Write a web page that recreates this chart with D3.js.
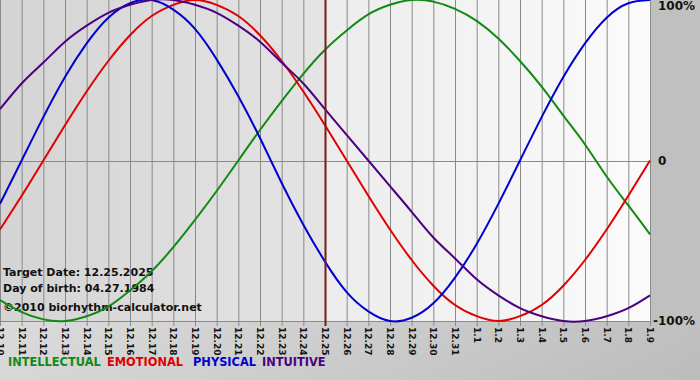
<!DOCTYPE html>
<html><head><meta charset="utf-8">
<script src="https://cdn.jsdelivr.net/npm/d3@7"></script>
<style>html,body{margin:0;padding:0;background:#fff;}svg{display:block;}</style>
</head><body>
<svg id="c" width="700" height="380"></svg>
<script>
const dates = ["12.10","12.11","12.12","12.13","12.14","12.15","12.16","12.17","12.18","12.19","12.20","12.21","12.22","12.23","12.24","12.25","12.26","12.27","12.28","12.29","12.30","12.31","1.1","1.2","1.3","1.4","1.5","1.6","1.7","1.8","1.9"];
const intellectual = [-0.87,-0.945,-0.99,-1.00,-0.97,-0.91,-0.81,-0.69,-0.54,-0.37,-0.19,0,0.19,0.37,0.54,0.69,0.81,0.91,0.97,1.00,0.99,0.945,0.87,0.76,0.62,0.46,0.28,0.10,-0.10,-0.28,-0.46];
const emotional = [-0.43,-0.22,0,0.22,0.43,0.62,0.78,0.90,0.97,1.00,0.97,0.90,0.78,0.62,0.43,0.22,0,-0.22,-0.43,-0.62,-0.78,-0.90,-0.97,-1.00,-0.97,-0.90,-0.78,-0.62,-0.43,-0.22,0];
const physical = [-0.27,0,0.27,0.52,0.73,0.89,0.98,1.00,0.94,0.82,0.63,0.40,0.14,-0.14,-0.40,-0.63,-0.82,-0.94,-1.00,-0.98,-0.89,-0.73,-0.52,-0.27,0,0.27,0.52,0.73,0.89,0.98,1.00];
const intuitive = [0.32,0.48,0.61,0.74,0.84,0.92,0.97,1.00,1.00,0.97,0.92,0.84,0.74,0.61,0.48,0.32,0.16,0,-0.16,-0.32,-0.48,-0.61,-0.74,-0.84,-0.92,-0.97,-1.00,-1.00,-0.97,-0.92,-0.84];
const targetDate = "12.25";
const yTicks = [{v:1,label:"100%"},{v:0,label:"0"},{v:-1,label:"-100%"}];
const seriesNames = ["INTELLECTUAL","EMOTIONAL","PHYSICAL","INTUITIVE"];
const seriesColors = ["#128a12","#e00000","#0000d0","#4b0082"];
const infoLines = ["Target Date: 12.25.2025","Day of birth: 04.27.1984"];
const credit = "\u00a92010 biorhythm-calculator.net";

(function(){
const svg = d3.select("#c");
const W = 700, H = 380;
const pL = 0, pR = 650, pT = 0, pB = 321;
const x = d3.scalePoint().domain(dates).range([pL, pR]);
const y = d3.scaleLinear().domain([-1, 1]).range([pB, pT]);
const tx = x(targetDate);

const defs = svg.append("defs");
const g1 = defs.append("linearGradient").attr("id","outer").attr("x1","0").attr("y1","0").attr("x2","1").attr("y2","1");
g1.append("stop").attr("offset","0").attr("stop-color","#f2f2f2");
g1.append("stop").attr("offset","1").attr("stop-color","#bcbcbc");
const g2 = defs.append("linearGradient").attr("id","past").attr("x1","0").attr("x2","1");
g2.append("stop").attr("offset","0").attr("stop-color","#d4d4d4");
g2.append("stop").attr("offset","1").attr("stop-color","#e4e4e4");
const g3 = defs.append("linearGradient").attr("id","future").attr("x1","0").attr("x2","1");
g3.append("stop").attr("offset","0").attr("stop-color","#ececec");
g3.append("stop").attr("offset","1").attr("stop-color","#fbfbfb");

svg.append("rect").attr("width",W).attr("height",H).attr("fill","url(#outer)");
svg.append("rect").attr("x",pR).attr("y",0).attr("width",W-pR).attr("height",pB+2).attr("fill","#c0c0c0");
svg.append("rect").attr("x",pL).attr("y",pT).attr("width",tx-pL).attr("height",pB-pT).attr("fill","url(#past)");
svg.append("rect").attr("x",tx).attr("y",pT).attr("width",pR-tx).attr("height",pB-pT).attr("fill","url(#future)");

svg.append("g").selectAll("line").data(dates).join("line")
  .attr("x1",d=>x(d)+0.5).attr("x2",d=>x(d)+0.5)
  .attr("y1",pT).attr("y2",pB+5)
  .attr("stroke","#8a8a8a").attr("stroke-width",1);
svg.append("g").selectAll("line").data(yTicks.filter(t=>t.v<1)).join("line")
  .attr("x1",pL).attr("x2",pR)
  .attr("y1",d=>Math.round(y(d.v))+0.5).attr("y2",d=>Math.round(y(d.v))+0.5)
  .attr("stroke","#8a8a8a").attr("stroke-width",1);

svg.append("g").selectAll("text").data(dates).join("text")
  .attr("transform",d=>`translate(${x(d)-3},${pB+6}) rotate(90)`)
  .attr("font-family","DejaVu Sans").attr("font-size","9px").attr("font-weight","bold")
  .attr("fill","#111").text(d=>d);

svg.append("g").selectAll("text").data(yTicks).join("text")
  .attr("x",d=>d.v<0?653:658).attr("y",d=>Math.min(Math.max(y(d.v),6),321)+4)
  .attr("font-family","DejaVu Sans").attr("font-size","12px").attr("font-weight","bold")
  .attr("fill","#111").text(d=>d.label);

svg.append("g").selectAll("text").data(infoLines).join("text")
  .attr("x",3).attr("y",(d,i)=>276+i*15.5)
  .attr("font-family","DejaVu Sans").attr("font-size","11px").attr("font-weight","bold")
  .attr("fill","#111").text(d=>d);
svg.append("text").attr("x",3).attr("y",311)
  .attr("font-family","DejaVu Sans").attr("font-size","11px").attr("font-weight","bold")
  .attr("fill","#111").text(credit);

const line = d3.line().x((d,i)=>x(dates[i])).y(d=>y(d)).curve(d3.curveNatural);
const seriesData = [intellectual, emotional, physical, intuitive];
svg.append("g").selectAll("path").data(seriesData).join("path")
  .attr("d",d=>line(d)).attr("fill","none")
  .attr("stroke",(d,i)=>seriesColors[i]).attr("stroke-width",2);

svg.append("line").attr("x1",tx+0.5).attr("x2",tx+0.5).attr("y1",pT).attr("y2",pB+5)
  .attr("stroke","#7a1a1a").attr("stroke-width",2);

const legX = [8, 107, 193, 262];
svg.append("g").selectAll("text").data(seriesNames).join("text")
  .attr("x",(d,i)=>legX[i]).attr("y",366)
  .attr("font-family","DejaVu Sans").attr("font-size","11.4px").attr("font-weight","bold")
  .attr("fill",(d,i)=>seriesColors[i]).text(d=>d);
})();
</script>
</body></html>
